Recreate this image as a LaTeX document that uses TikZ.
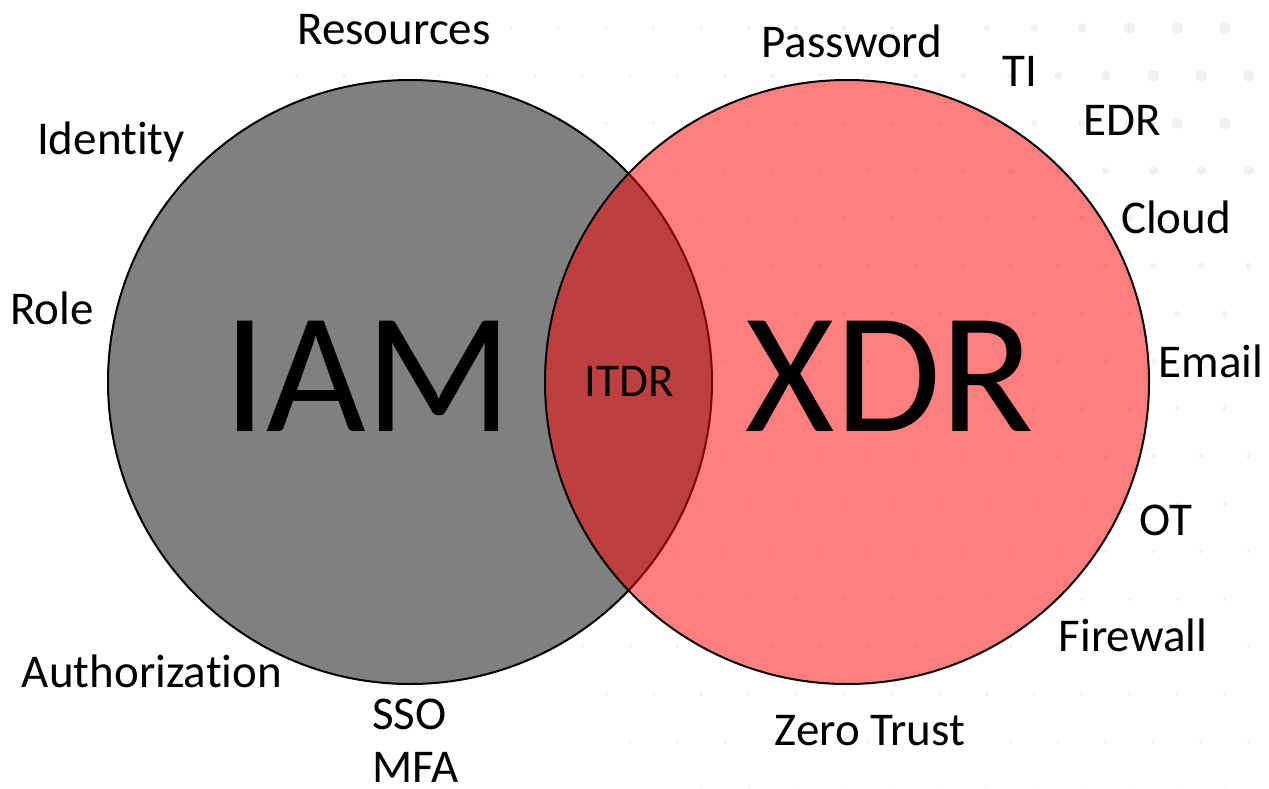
\documentclass[tikz,border=0pt]{standalone}
\usepackage{fontspec}
\setmainfont{Carlito}[Ligatures=NoCommon]
\definecolor{dotgray}{HTML}{F1F1F1}
\definecolor{iamgray}{HTML}{808080}
\tikzset{
  lbl/.style={font=\fontsize{47}{56}\selectfont, anchor=base, inner sep=0pt},
  big/.style={font=\fontsize{172}{200}\selectfont, anchor=base, inner sep=0pt},
  setcircle/.style={circle, inner sep=0pt, outer sep=0pt, minimum size=604pt,
                    line width=2pt, draw=black},
}
\begin{document}
\begin{tikzpicture}[x=1pt, y=-1pt]
\useasboundingbox (0,0) rectangle (1269,789);
\fill[white] (0,0) rectangle (1269,789);

% staggered dot grid, fading out from the upper right corner
\foreach \j in {0,...,16} {
  \foreach \i in {-24,...,4} {
    \pgfmathsetmacro\dx{1082 + 47.6*\i - 23.8*mod(\j,2)}
    \pgfmathsetmacro\dy{28 + 47.6*\j}
    \pgfmathsetmacro\dd{sqrt((12.69-\dx/100)^2 + (\dy/100)^2)}
    \pgfmathtruncatemacro\ok{(\dd<9.8) && (\dx>0) && (\dx<1269)}
    \ifnum\ok=1
      \pgfmathsetmacro\rr{min(5.8, 1.8 + 4*exp(-(\dd-1.5)/1.2))}
      \fill[dotgray] (\dx,\dy) circle[radius=\rr pt];
    \fi
  }
}

% the two sets
\node[setcircle, fill=iamgray] (iam) at (410,382) {};
\node[setcircle, fill=red, fill opacity=0.5] (xdr) at (847,382) {};

% set names
\node[big] (iamtxt) at (368,431) {IAM};
\node[big] (xdrtxt) at (890,431) {XDR};
\node[lbl] (itdr) at (629,396) {ITDR};

% terms around IAM
\node[lbl] (resources) at (394,45) {Resources};
\node[lbl] (identity) at (111,154) {Identity};
\node[lbl] (role) at (52,324) {Role};
\node[lbl] (authz) at (152,687) {Authorization};
\node[lbl, anchor=base west] (sso) at (372,729) {SSO};
\node[lbl, anchor=base west] (mfa) at (372,782) {MFA};

% terms around XDR
\node[lbl] (password) at (852,58) {Password};
\node[lbl] (ti) at (1020,87) {TI};
\node[lbl] (edr) at (1122,136) {EDR};
\node[lbl] (cloud) at (1176,233) {Cloud};
\node[lbl] (email) at (1211,377) {Email};
\node[lbl] (ot) at (1166,535) {OT};
\node[lbl] (firewall) at (1133,651) {Firewall};
\node[lbl] (zerotrust) at (870,745) {Zero Trust};
\end{tikzpicture}
\end{document}
